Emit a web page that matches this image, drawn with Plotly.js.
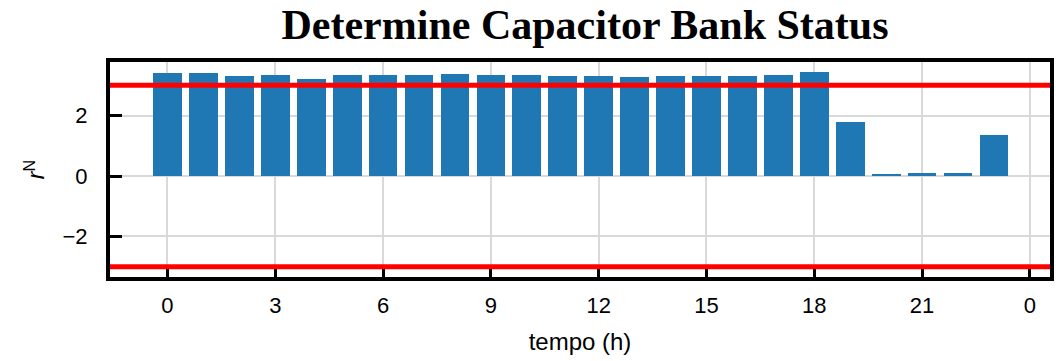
<!DOCTYPE html>
<html>
<head>
<meta charset="utf-8">
<script src="https://cdn.plot.ly/plotly-3.0.1.min.js"></script>
<style>html,body{margin:0;padding:0;background:#fff;}#chart{width:1056px;height:361px;}</style>
</head>
<body>
<div id="chart"></div>
<script>
const hours = [0,1,2,3,4,5,6,7,8,9,10,11,12,13,14,15,16,17,18,19,20,21,22,23];
const rN = [3.39,3.42,3.31,3.33,3.20,3.35,3.35,3.35,3.38,3.35,3.35,3.31,3.32,3.28,3.31,3.30,3.32,3.35,3.45,1.80,0.06,0.09,0.09,1.34];
const thresholds = [3, -3];
const xTickVals = [0,3,6,9,12,15,18,21,24];
const xTickText = ['0','3','6','9','12','15','18','21','0'];
const yTickVals = [-2,0,2];
const yTickText = ['\u22122','0','2'];

const data = [{
  type: 'bar',
  x: hours,
  y: rN,
  width: 0.8,
  marker: {color: '#1f77b4', line: {width: 0}},
  hoverinfo: 'skip'
}];

const shapes = thresholds.map(t => ({
  type: 'line', xref: 'paper', yref: 'y', x0: 0, x1: 1, y0: t, y1: t,
  line: {color: '#ff0000', width: 5}, layer: 'above'
}));

const layout = {
  width: 1056, height: 361,
  margin: {l: 110, r: 6, t: 62, b: 84},
  paper_bgcolor: '#fff', plot_bgcolor: '#fff',
  showlegend: false,
  bargap: 0,
  title: {text: '<b>Determine Capacitor Bank Status</b>', font: {family: 'Liberation Serif, Times New Roman, serif', size: 42, color: '#000'}, x: 0.554, xanchor: 'center', y: 0.932, yanchor: 'middle', yref: 'container'},
  font: {family: 'Liberation Sans, Arial, sans-serif', size: 22, color: '#000'},
  xaxis: {
    range: [-1.6, 24.56], tickvals: xTickVals, ticktext: xTickText,
    showgrid: true, gridcolor: '#d9d9d9', gridwidth: 2,
    zeroline: false, showline: true, linecolor: '#000', linewidth: 4, mirror: true,
    ticks: 'inside', ticklen: 12, tickwidth: 3, tickcolor: '#000',
    tickfont: {size: 22}, ticklabelstandoff: 6,
    title: {text: 'tempo (h)', font: {size: 24}, standoff: 17}
  },
  yaxis: {
    range: [-3.34, 3.77], tickvals: yTickVals, ticktext: yTickText,
    showgrid: true, gridcolor: '#d9d9d9', gridwidth: 2,
    zeroline: false, showline: true, linecolor: '#000', linewidth: 4, mirror: true,
    ticks: 'inside', ticklen: 12, tickwidth: 3, tickcolor: '#000',
    tickfont: {size: 22}, ticklabelstandoff: 14,
    title: {text: '<i>r</i><sup>N</sup>', font: {size: 23}, standoff: 12}
  },
  shapes: shapes
};

Plotly.newPlot('chart', data, layout, {staticPlot: true, displayModeBar: false});
</script>
</body>
</html>
